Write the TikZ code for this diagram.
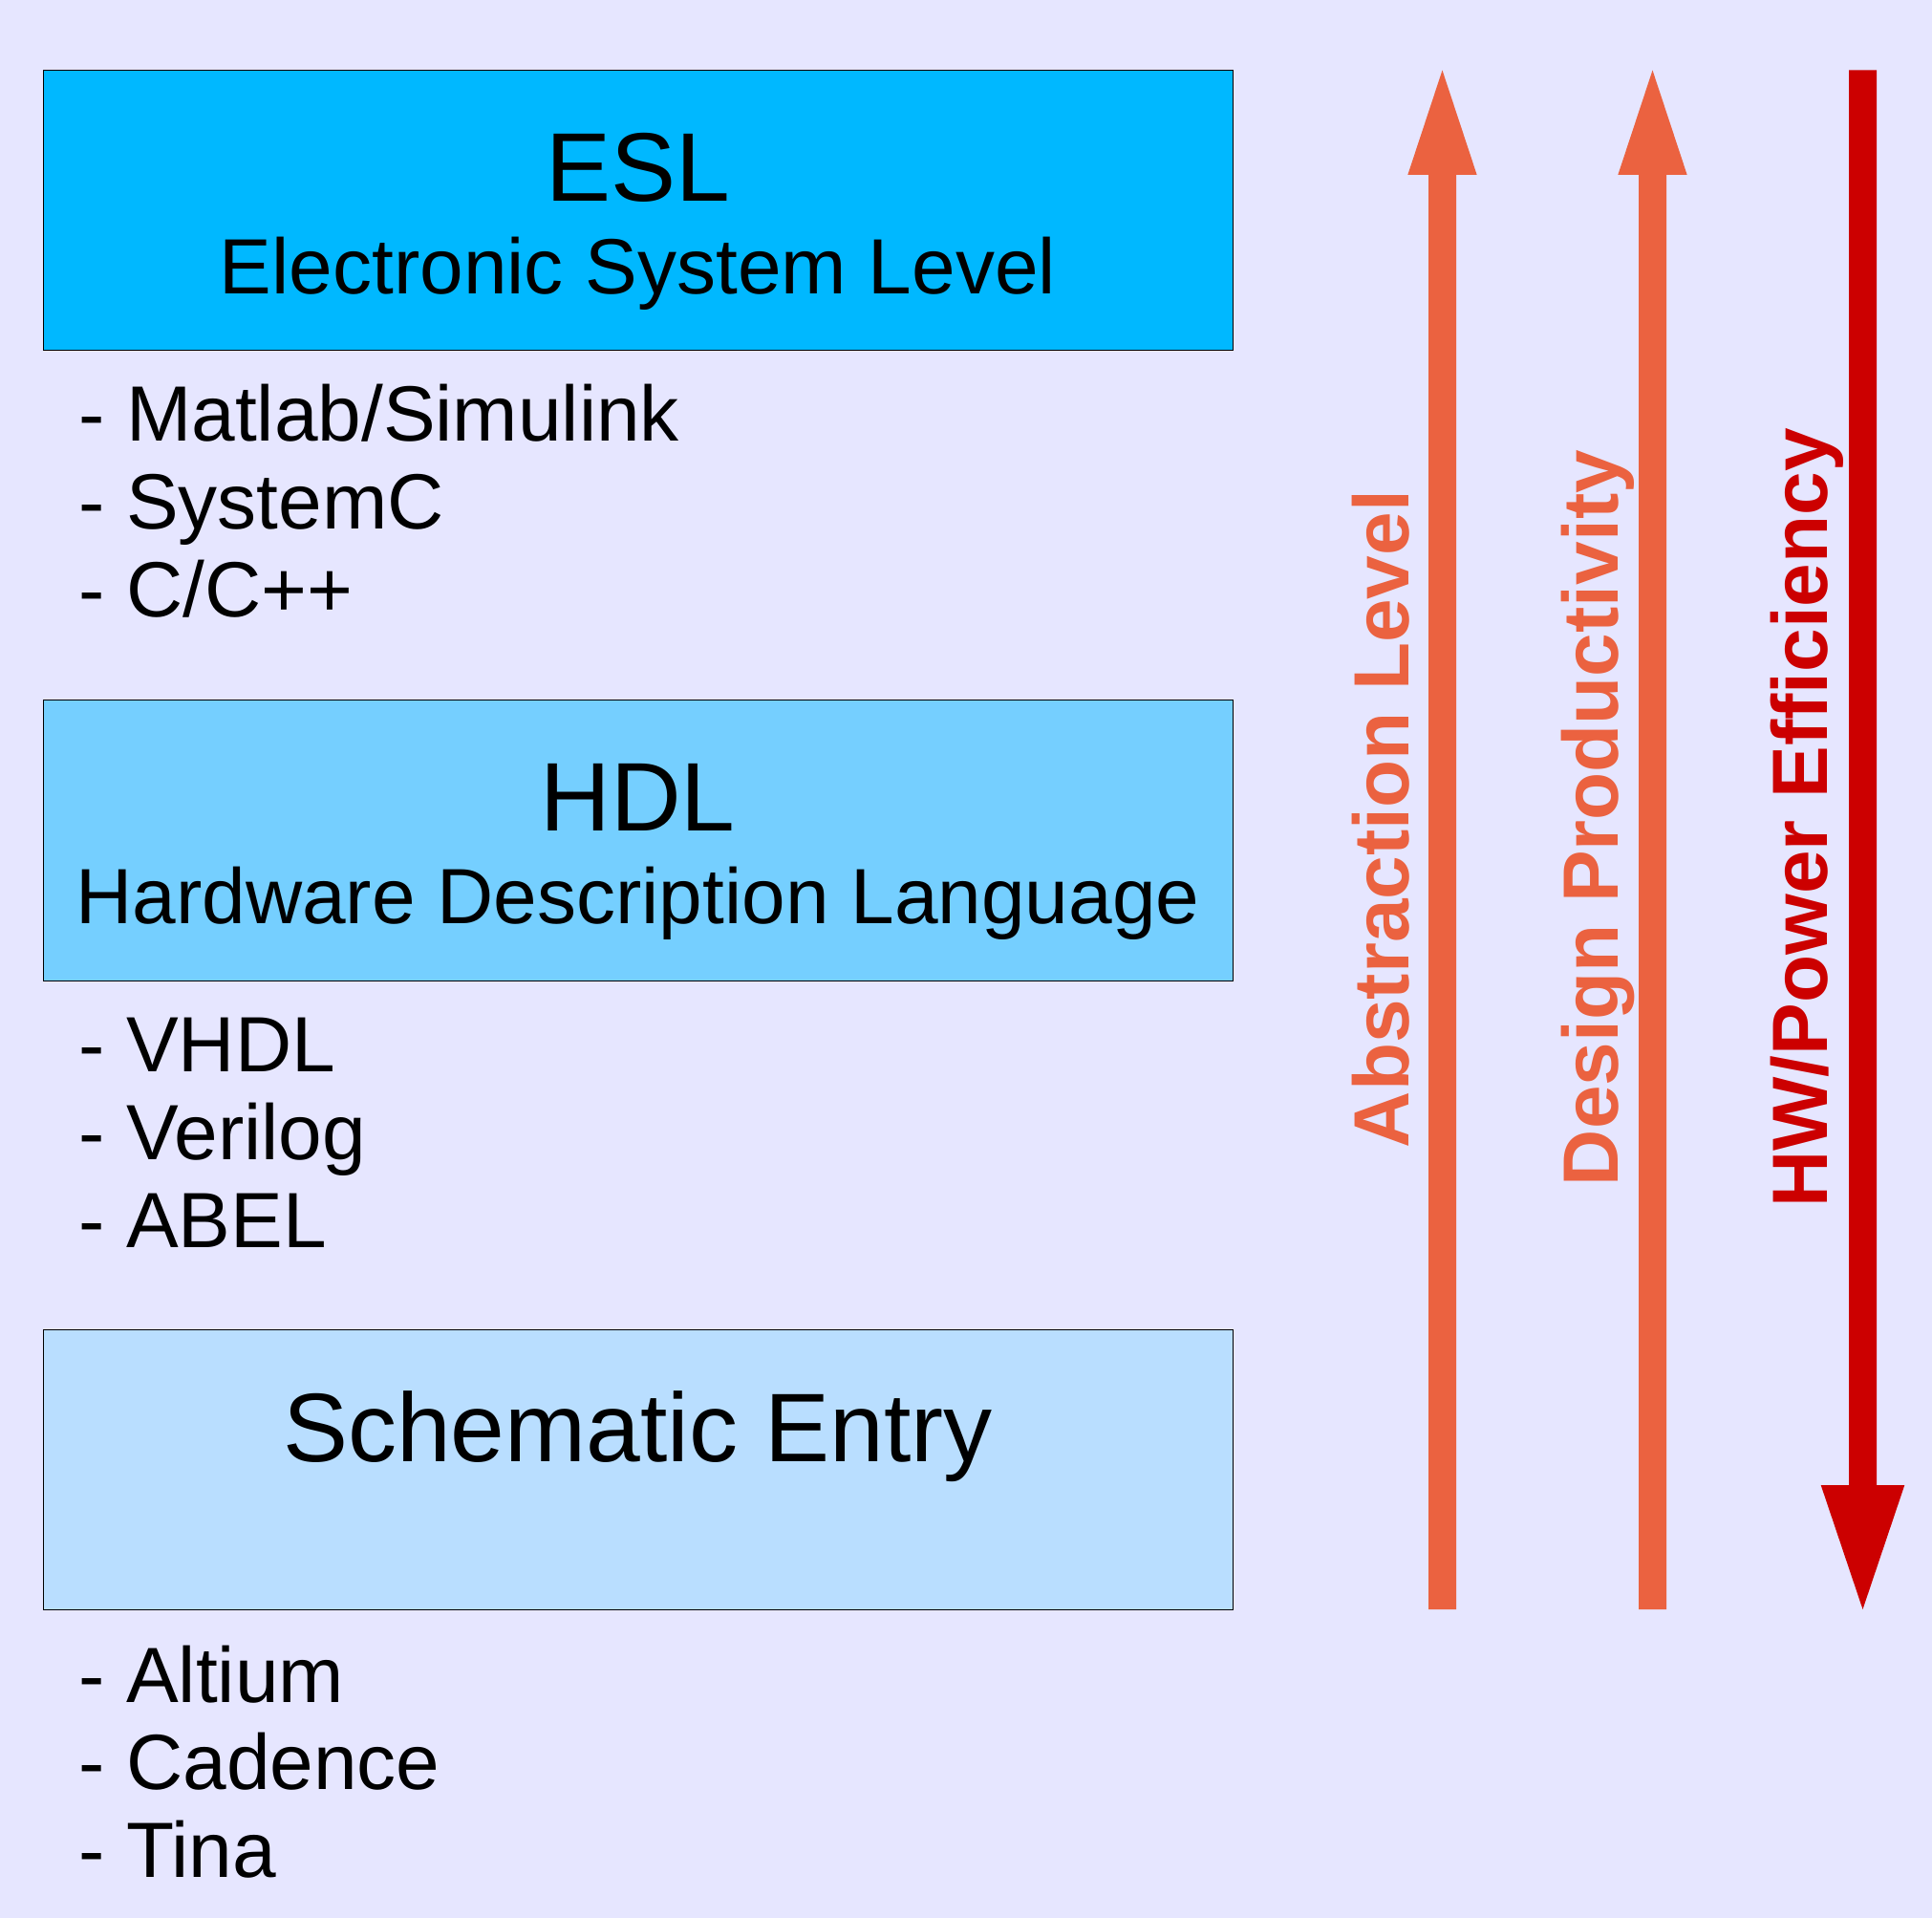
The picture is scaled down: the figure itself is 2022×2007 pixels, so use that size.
\documentclass[tikz,border=0pt]{standalone}
\usepackage{fontspec}
\setmainfont{Liberation Sans}
\definecolor{bg}{HTML}{E6E6FF}
\definecolor{eslfill}{HTML}{00B8FF}
\definecolor{hdlfill}{HTML}{75CFFF}
\definecolor{schfill}{HTML}{B9DEFF}
\definecolor{orangearr}{HTML}{EB6240}
\definecolor{redarr}{HTML}{CC0000}
\begin{document}
\begin{tikzpicture}[x=1pt,y=-1pt,
  levelbox/.style={draw=black,line width=1pt},
  titletext/.style={anchor=base,inner sep=0pt,font=\fontsize{102}{110}\selectfont},
  subtext/.style={anchor=base,inner sep=0pt,font=\fontsize{82}{90}\selectfont},
  listtext/.style={anchor=base west,inner sep=0pt,font=\fontsize{82}{90}\selectfont},
  vtext/.style={anchor=base,inner sep=0pt,rotate=90,font=\bfseries\fontsize{82}{90}\selectfont}]
\useasboundingbox (0,0) rectangle (2022,2007);
\fill[bg] (0,0) rectangle (2022,2007);
% boxes
\filldraw[levelbox,fill=eslfill] (45,73.5) rectangle (1290,366);
\filldraw[levelbox,fill=hdlfill] (45,732) rectangle (1290,1026.5);
\filldraw[levelbox,fill=schfill] (45,1391) rectangle (1290,1684);
% ESL
\node[titletext] (esl) at (667.5,210) {ESL};
\node[subtext] (eslsub) at (667.5,307) {Electronic System Level};
\node[listtext] (l1) at (82,461.5) {- Matlab/Simulink};
\node[listtext] (l2) at (82,553.5) {- SystemC};
\node[listtext] (l3) at (82,645) {- C/C++};
% HDL
\node[titletext] (hdl) at (667.5,869) {HDL};
\node[subtext] (hdlsub) at (667.5,966) {Hardware Description Language};
\node[listtext] (l4) at (82,1121) {- VHDL};
\node[listtext] (l5) at (82,1213) {- Verilog};
\node[listtext] (l6) at (82,1305) {- ABEL};
% Schematic
\node[titletext] (sch) at (667.5,1529) {Schematic Entry};
\node[listtext] (l7) at (82,1781) {- Altium};
\node[listtext] (l8) at (82,1872) {- Cadence};
\node[listtext] (l9) at (82,1964) {- Tina};
% arrows
\fill[orangearr] (1495,1684) -- (1495,183) -- (1473.3,183) -- (1509.5,73.5) -- (1545.7,183) -- (1524,183) -- (1524,1684) -- cycle;
\fill[orangearr] (1715,1684) -- (1715,183) -- (1693.3,183) -- (1729.5,73.5) -- (1765.7,183) -- (1744,183) -- (1744,1684) -- cycle;
\fill[redarr] (1935,73.5) -- (1935,1554) -- (1905.7,1554) -- (1949.5,1684) -- (1993.3,1554) -- (1964,1554) -- (1964,73.5) -- cycle;
% vertical labels
\node[vtext,text=orangearr] (abs) at (1474,857) {Abstraction Level};
\node[vtext,text=orangearr] (des) at (1693,856) {Design Productivity};
\node[vtext,text=redarr] (hw) at (1912,856) {HW/Power Efficiency};
\end{tikzpicture}
\end{document}
